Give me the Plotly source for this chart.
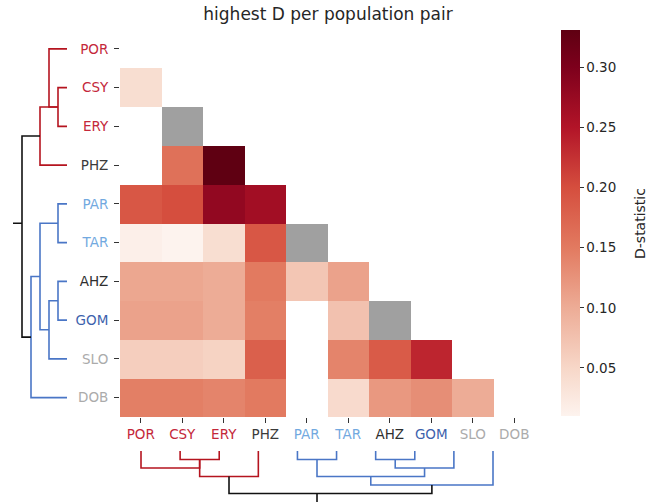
import plotly.graph_objects as go

W, H = 658, 502

# ---------------- data ----------------
POPS = ["POR", "CSY", "ERY", "PHZ", "PAR", "TAR", "AHZ", "GOM", "SLO", "DOB"]

# lower-triangle rows: D value against POPS[0..i-1]; None = no value
ROW_POR = []
ROW_CSY = [0.040]
ROW_ERY = [None, None]
ROW_PHZ = [None, 0.160, 0.331]
ROW_PAR = [0.190, 0.200, 0.280, 0.265]
ROW_TAR = [0.015, 0.010, 0.040, 0.190, None]
ROW_AHZ = [0.105, 0.105, 0.100, 0.150, 0.070, 0.110]
ROW_GOM = [0.110, 0.110, 0.100, 0.145, None, 0.075, None]
ROW_SLO = [0.060, 0.060, 0.055, 0.180, None, 0.140, 0.185, 0.235]
ROW_DOB = [0.145, 0.145, 0.140, 0.150, None, 0.045, 0.120, 0.130, 0.100]

# sister pairs shown in grey
SISTER_PAIRS = [("ERY", "CSY"), ("TAR", "PAR"), ("GOM", "AHZ")]

# dendrogram linkage (node ids: leaves 0..9, merges 10..)
MERGE_A = [1, 0, 10, 4, 6, 14, 13, 16, 12]
MERGE_B = [2, 10, 3, 5, 7, 8, 15, 9, 17]
MERGE_H = [1, 2, 3, 1, 1, 2, 3, 4, 5]
MERGE_GROUP = ["r", "r", "r", "b", "b", "b", "b", "b", "k"]
ROOT_STUB_H = 6

CBAR_TICKS = [0.05, 0.10, 0.15, 0.20, 0.25, 0.30]
TITLE = "highest D per population pair"
CBAR_TITLE = "D-statistic"

# ---------------- styles ----------------
LABEL_COLORS = {
    "POR": "#c4283a", "CSY": "#c4283a", "ERY": "#c4283a", "PHZ": "#3a3a3a",
    "PAR": "#72a9e0", "TAR": "#72a9e0", "AHZ": "#2e2e2e", "GOM": "#3d62ad",
    "SLO": "#ababab", "DOB": "#ababab",
}
GROUP_COLORS = {"r": "#b5141f", "b": "#4a76c6", "k": "#111111"}
COLORSCALE = [
    [0.0, "rgb(253,243,238)"],
    [0.124, "rgb(247,215,200)"],
    [0.280, "rgb(237,172,150)"],
    [0.436, "rgb(226,122,96)"],
    [0.592, "rgb(213,78,62)"],
    [0.748, "rgb(178,20,40)"],
    [0.904, "rgb(125,0,28)"],
    [1.0, "rgb(95,0,18)"],
]
FONT = "DejaVu Sans"

# ---------------- build matrices ----------------
rows = [ROW_POR, ROW_CSY, ROW_ERY, ROW_PHZ, ROW_PAR, ROW_TAR, ROW_AHZ, ROW_GOM, ROW_SLO, ROW_DOB]
n = len(POPS)
Z = [[None] * n for _ in range(n)]
for i, r in enumerate(rows):
    for j, v in enumerate(r):
        Z[i][j] = v
G = [[None] * n for _ in range(n)]
for a, b in SISTER_PAIRS:
    G[POPS.index(a)][POPS.index(b)] = 1

vals = [v for r in rows for v in r if v is not None]
zmin, zmax = min(vals), max(vals)

# ---------------- dendrogram geometry ----------------
pos = {i: float(i) for i in range(n)}
hgt = {i: 0.0 for i in range(n)}
segs = {"r": ([], []), "b": ([], []), "k": ([], [])}
for k, (a, b, h, g) in enumerate(zip(MERGE_A, MERGE_B, MERGE_H, MERGE_GROUP)):
    node = n + k
    xs, hs = segs[g]
    xs += [pos[a], pos[a], pos[b], pos[b], None]
    hs += [hgt[a], h, h, hgt[b], None]
    pos[node] = (pos[a] + pos[b]) / 2
    hgt[node] = h
root = n + len(MERGE_A) - 1
center = sum(range(n)) / n
segs["k"][0].extend([center, center, None])
segs["k"][1].extend([hgt[root], ROOT_STUB_H, None])

# ---------------- figure ----------------
def px_x(p):  # screen pixel -> paper fraction
    return p / W

def px_y(p):
    return 1 - p / H

hm_x = [px_x(120), px_x(535)]
hm_y = [px_y(417), px_y(29.5)]

fig = go.Figure()
fig.add_trace(go.Heatmap(
    z=Z, x=POPS, y=POPS, zmin=zmin, zmax=zmax, colorscale=COLORSCALE,
    xgap=0, ygap=0, hoverongaps=False,
    colorbar=dict(
        x=px_x(561), xanchor="left", thickness=19, thicknessmode="pixels",
        len=(416 - 30) / H, lenmode="fraction", y=px_y(223), yanchor="middle",
        xpad=0, ypad=0, outlinewidth=0,
        tickvals=CBAR_TICKS, tickformat=".2f", ticks="outside", ticklen=4,
        tickcolor="#333333", tickfont=dict(family=FONT, size=13.5, color="#262626"),
    ),
))
fig.add_trace(go.Heatmap(
    z=G, x=POPS, y=POPS, colorscale=[[0, "#a0a0a0"], [1, "#a0a0a0"]],
    showscale=False, hoverongaps=False,
))

for g, (xs, hs) in segs.items():
    fig.add_trace(go.Scatter(x=hs, y=xs, mode="lines", xaxis="x2", yaxis="y2",
                             line=dict(color=GROUP_COLORS[g], width=1.6), showlegend=False,
                             hoverinfo="skip"))
    fig.add_trace(go.Scatter(x=xs, y=hs, mode="lines", xaxis="x3", yaxis="y3",
                             line=dict(color=GROUP_COLORS[g], width=1.6), showlegend=False,
                             hoverinfo="skip"))

ticktext = [f'<span style="color:{LABEL_COLORS[p]}">{p}</span>' for p in POPS]
axis_common = dict(showgrid=False, zeroline=False, showline=False, ticks="outside",
                   ticklen=5, tickwidth=1, tickcolor="#333333",
                   tickfont=dict(family=FONT, size=13.5),
                   categoryorder="array", categoryarray=POPS,
                   tickvals=POPS, ticktext=ticktext)

leaf_sp = (493 - 141) / 9
fig.update_layout(
    width=W, height=H, margin=dict(l=0, r=0, t=0, b=0, autoexpand=False),
    paper_bgcolor="white", plot_bgcolor="white",
    font=dict(family=FONT, color="#262626"),
    title=dict(text=TITLE, x=px_x(328), xanchor="center", y=px_y(14), yanchor="middle",
               font=dict(family=FONT, size=17, color="#262626")),
    xaxis=dict(domain=hm_x, anchor="y", **axis_common),
    yaxis=dict(domain=hm_y, anchor="x", autorange="reversed", ticklabelstandoff=3, **axis_common),
    xaxis2=dict(domain=[px_x(13), px_x(67)], range=[ROOT_STUB_H, 0], visible=False, anchor="y2"),
    yaxis2=dict(domain=hm_y, range=[n - 0.5, -0.5], visible=False, anchor="x2"),
    xaxis3=dict(domain=[px_x(141 - leaf_sp / 2), px_x(493 + leaf_sp / 2)], range=[-0.5, n - 0.5],
                visible=False, anchor="y3"),
    yaxis3=dict(domain=[0, px_y(451)], range=[ROOT_STUB_H, 0], visible=False, anchor="x3"),
    showlegend=False,
    annotations=[dict(text=CBAR_TITLE, xref="paper", yref="paper", x=px_x(640), y=px_y(224),
                      xanchor="center", yanchor="middle", textangle=-90, showarrow=False,
                      font=dict(family=FONT, size=14, color="#262626"))],
)

# remove the default 8px page margin so the figure fills the window exactly
fig.write_html("out.html", config={"displayModeBar": False},
               post_script="document.body.style.margin='0px';")
